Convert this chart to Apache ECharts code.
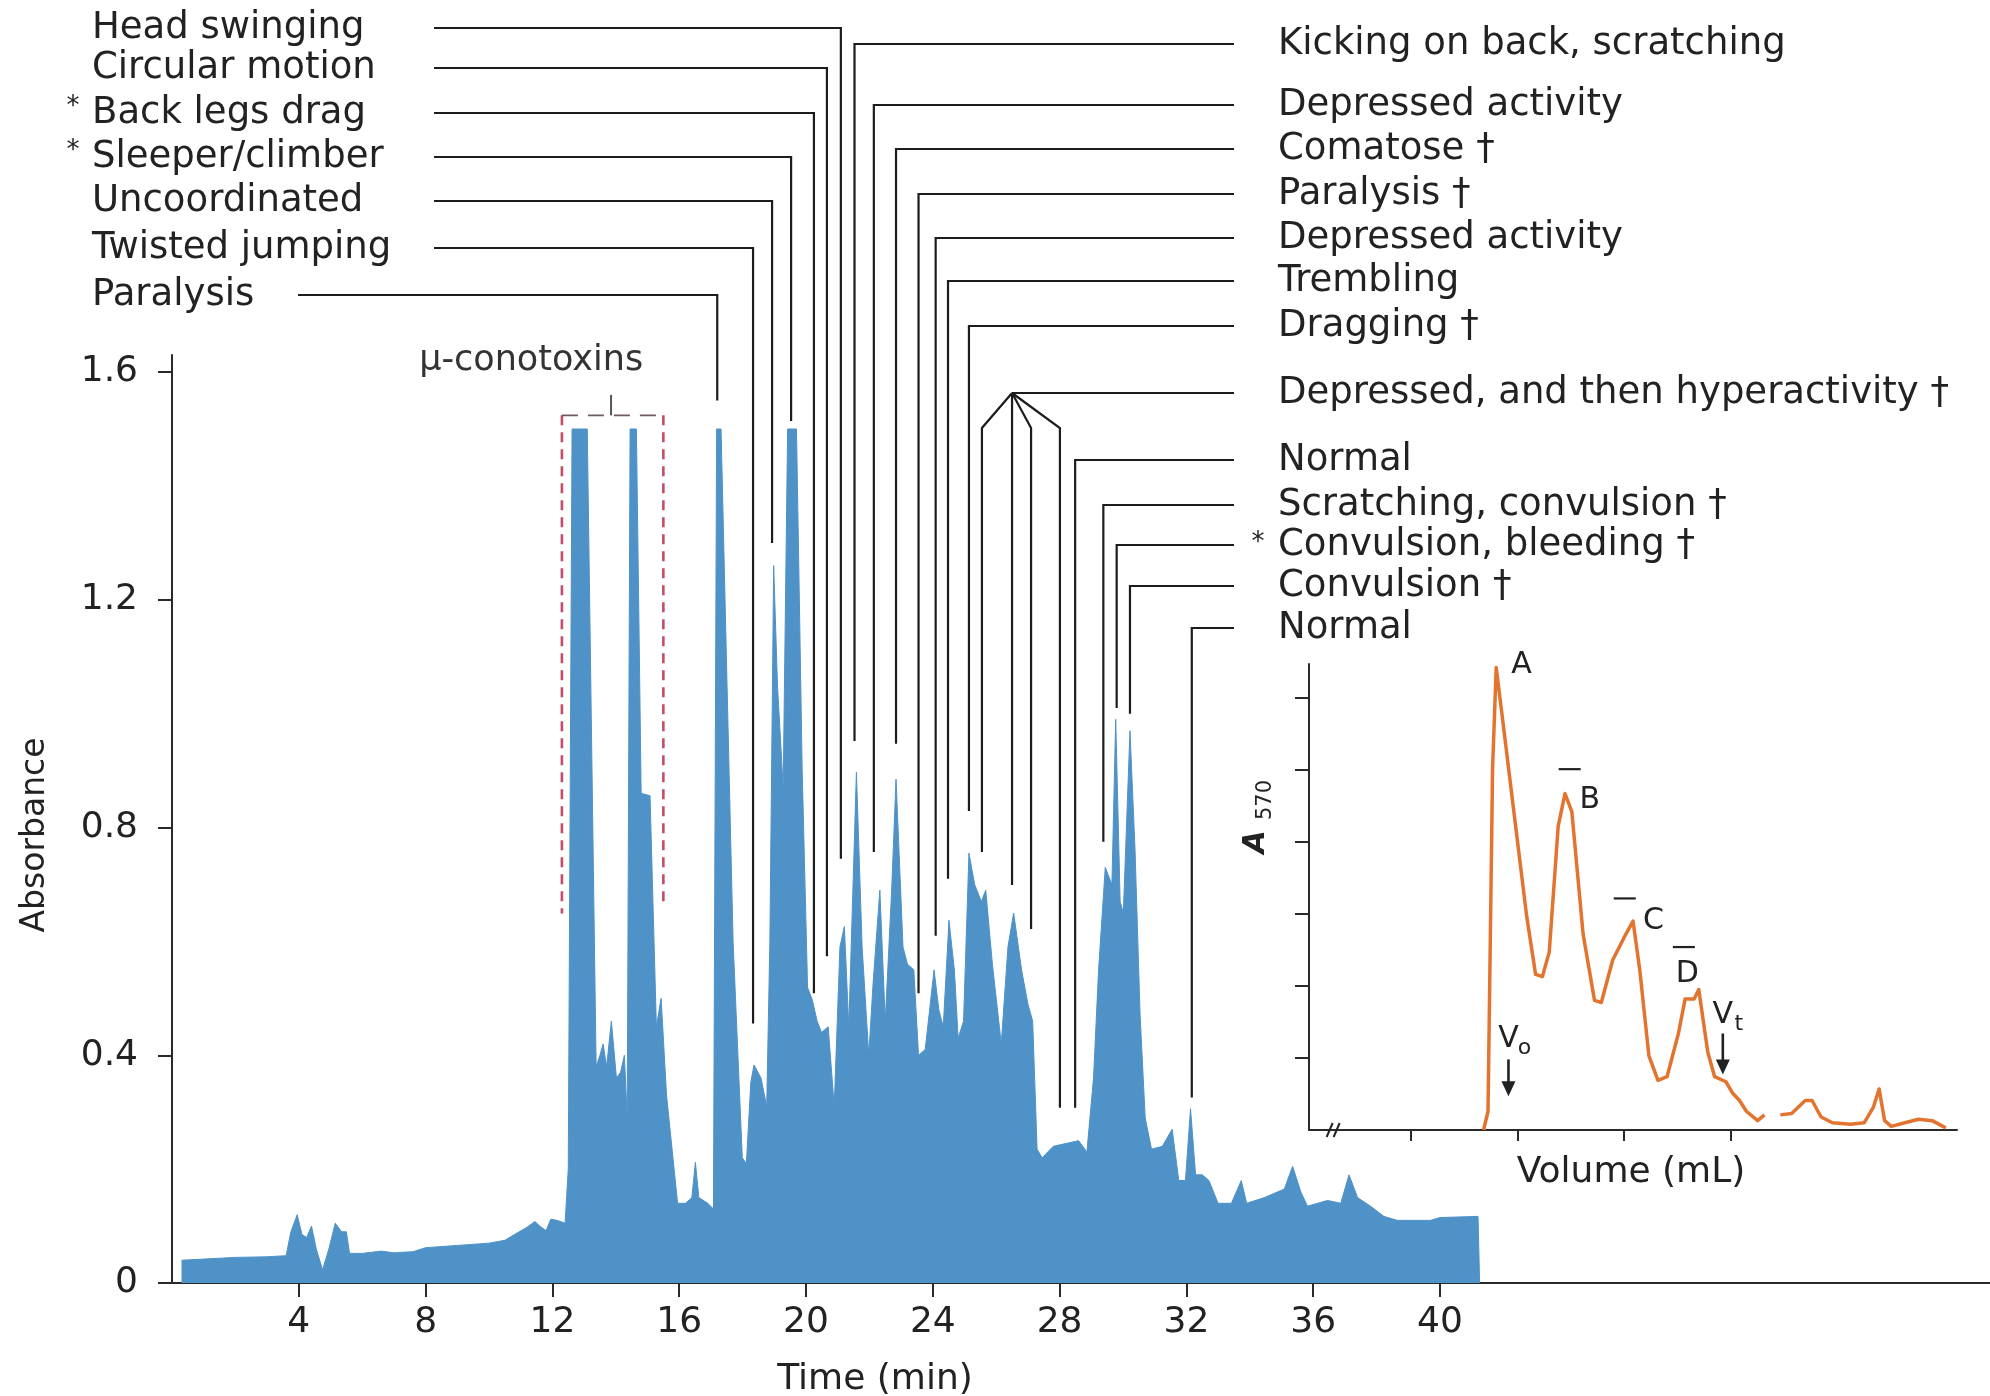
<!DOCTYPE html>
<html>
<head>
<meta charset="utf-8">
<script src="https://cdn.jsdelivr.net/npm/echarts@6/dist/echarts.min.js"></script>
<style>
html,body{margin:0;padding:0;background:#ffffff;}
#main{width:1990px;height:1396px;}
</style>
</head>
<body>
<div id="main"></div>
<script>
// ---------------- DATA ----------------
// Main chromatogram: time (min) and absorbance
const timeMin = [
  0.3, 1.0, 2.0, 3.0, 3.6, 3.75, 3.95, 4.1, 4.25, 4.4,
  4.55, 4.75, 4.95, 5.15, 5.35, 5.5, 5.6, 6.0, 6.6, 7.0,
  7.6, 8.0, 9.0, 10.0, 10.5, 10.8, 11.2, 11.45, 11.6, 11.8,
  11.95, 12.15, 12.4, 12.5, 12.62, 13.1, 13.38, 13.5, 13.6, 13.71,
  13.86, 14.02, 14.15, 14.27, 14.36, 14.45, 14.65, 14.8, 15.08, 15.28,
  15.43, 15.6, 15.95, 16.2, 16.4, 16.51, 16.62, 16.9, 17.08, 17.18,
  17.32, 17.7, 17.99, 18.12, 18.26, 18.36, 18.58, 18.76, 18.86, 18.98,
  19.1, 19.28, 19.42, 19.7, 19.88, 20.05, 20.2, 20.35, 20.49, 20.7,
  20.89, 21.07, 21.21, 21.35, 21.59, 21.77, 21.98, 22.12, 22.33, 22.5,
  22.7, 22.84, 23.06, 23.2, 23.4, 23.55, 23.76, 24.04, 24.19, 24.33,
  24.51, 24.68, 24.8, 24.97, 25.14, 25.32, 25.53, 25.67, 25.88, 26.16,
  26.37, 26.55, 26.8, 27.0, 27.15, 27.29, 27.45, 27.8, 28.2, 28.6,
  28.86, 29.07, 29.23, 29.44, 29.65, 29.77, 29.91, 30.01, 30.22, 30.38,
  30.54, 30.7, 30.9, 31.24, 31.55, 31.76, 31.97, 32.13, 32.29, 32.5,
  32.71, 33.0, 33.42, 33.73, 33.9, 34.46, 35.09, 35.35, 35.61, 35.82,
  36.45, 36.87, 37.13, 37.4, 37.81, 38.23, 38.65, 39.7, 40.0, 41.2,
  41.25
];
const absorbance = [
  0.040, 0.042, 0.045, 0.046, 0.048, 0.090, 0.120, 0.085, 0.080, 0.100,
  0.060, 0.023, 0.060, 0.105, 0.090, 0.090, 0.052, 0.052, 0.056, 0.053,
  0.055, 0.062, 0.066, 0.070, 0.075, 0.085, 0.098, 0.108, 0.100, 0.092,
  0.112, 0.110, 0.105, 0.200, 1.500, 1.500, 0.380, 0.400, 0.420, 0.380,
  0.460, 0.360, 0.370, 0.400, 0.290, 1.500, 1.500, 0.860, 0.856, 0.450,
  0.500, 0.330, 0.140, 0.140, 0.150, 0.212, 0.150, 0.140, 0.130, 1.500,
  1.500, 0.600, 0.220, 0.210, 0.353, 0.383, 0.360, 0.310, 0.600, 1.260,
  1.050, 0.870, 1.500, 1.500, 0.900, 0.519, 0.497, 0.460, 0.440, 0.450,
  0.310, 0.590, 0.626, 0.450, 0.897, 0.590, 0.400, 0.530, 0.690, 0.460,
  0.687, 0.885, 0.590, 0.560, 0.550, 0.400, 0.410, 0.550, 0.480, 0.450,
  0.637, 0.550, 0.430, 0.460, 0.755, 0.700, 0.670, 0.690, 0.560, 0.420,
  0.590, 0.650, 0.550, 0.490, 0.460, 0.235, 0.220, 0.240, 0.245, 0.250,
  0.230, 0.360, 0.550, 0.730, 0.700, 0.990, 0.670, 0.650, 0.970, 0.760,
  0.470, 0.290, 0.235, 0.240, 0.270, 0.180, 0.180, 0.306, 0.190, 0.190,
  0.180, 0.140, 0.140, 0.180, 0.140, 0.150, 0.165, 0.205, 0.160, 0.135,
  0.145, 0.140, 0.190, 0.150, 0.135, 0.117, 0.110, 0.110, 0.115, 0.117,
  0
];
const xTickValues = [4, 8, 12, 16, 20, 24, 28, 32, 36, 40];
const yTickValues = [0, 0.4, 0.8, 1.2, 1.6];
const yTickLabels = ['0', '0.4', '0.8', '1.2', '1.6'];

// Inset (gel filtration): volume (arbitrary mL units) and A570
const insetVolume = [
  1.679, 1.721, 1.764, 1.798, 1.849, 1.977, 2.083, 2.168, 2.232, 2.296,
  2.38, 2.444, 2.508, 2.614, 2.721, 2.785, 2.892, 2.998, 3.083, 3.147,
  3.232, 3.317, 3.402, 3.509, 3.572, 3.657, 3.70, 3.785, 3.849, 3.955,
  4.019, 4.083, 4.147, 4.253, 4.317, 4.39, 4.466, 4.572, 4.7, 4.764,
  4.849, 4.955, 5.125, 5.253, 5.338, 5.394, 5.445, 5.508, 5.636, 5.764,
  5.892, 6.02
];
const insetA570 = [
  0, 0.257, 5.03, 6.42, 5.81, 4.26, 2.98, 2.16, 2.13, 2.47,
  4.22, 4.67, 4.42, 2.72, 1.80, 1.77, 2.36, 2.67, 2.90, 2.21,
  1.03, 0.69, 0.74, 1.34, 1.82, 1.82, 1.95, 1.08, 0.74, 0.67,
  0.51, 0.41, 0.26, 0.13, 0.21, null, 0.21, 0.23, 0.41, 0.41,
  0.18, 0.10, 0.08, 0.10, 0.31, 0.57, 0.13, 0.05, 0.10, 0.15,
  0.13, 0.03
];
const insetXTicks = [1, 2, 3, 4];
const insetYTicks = [1, 2, 3, 4, 5, 6];

// Inset peak letters (A, B̄, C̄, D̄) and their anchor (volume, A570)
const insetPeakNames = ['A', 'B', 'C', 'D'];
const insetPeakVolume = [2.036, 2.676, 3.274, 3.593];
const insetPeakA570 = [6.45, 4.58, 2.90, 2.17];
const insetPeakBarred = [false, true, true, true];
const insetBarVolume = [null, 2.488, 3.005, 3.56];
const insetBarA570 = [null, 5.01, 3.215, 2.54];
// Vo / Vt markers
const markerNames = ['V', 'V'];
const markerSubs = ['o', 't'];
const markerVolume = [1.913, 3.926];
const markerTextA570 = [1.26, 1.59];
const markerArrowTop = [0.98, 1.34];
const markerArrowTip = [0.47, 0.77];

// Behaviour annotations (left side)
const leftBehaviors = ['Head swinging', 'Circular motion', 'Back legs drag', 'Sleeper/climber', 'Uncoordinated', 'Twisted jumping', 'Paralysis'];
const leftStarred = [false, false, true, true, false, false, false];
const leftPeakTime = [21.1, 20.66, 20.25, 19.53, 18.93, 18.33, 17.2];
const leftPeakAbs = [0.745, 0.574, 0.509, 1.514, 1.30, 0.456, 1.55];

// Behaviour annotations (right side); null time = forked bracket
const rightBehaviors = ['Kicking on back, scratching', 'Depressed activity', 'Comatose \u2020', 'Paralysis \u2020', 'Depressed activity', 'Trembling', 'Dragging \u2020', 'Depressed, and then hyperactivity \u2020', 'Normal', 'Scratching, convulsion \u2020', 'Convulsion, bleeding \u2020', 'Convulsion \u2020', 'Normal'];
const rightStarred = [false, false, false, false, false, false, false, false, false, false, true, false, false];
const rightPeakTime = [21.53, 22.14, 22.84, 23.55, 24.09, 24.48, 25.14, null, 28.49, 29.38, 29.8, 30.22, 32.17];
const rightPeakAbs = [0.952, 0.757, 0.947, 0.509, 0.61, 0.71, 0.829, null, 0.308, 0.775, 1.01, 1.0, 0.326];
const forkApexTime = 26.5;
const forkPeakTime = [25.55, 26.5, 27.1, 28.01];
const forkPeakAbs = [0.757, 0.699, 0.622, 0.308];

// mu-conotoxin bracket (time range, absorbance)
const conoLabel = '\u03bc-conotoxins';
const conoTime = [12.3, 15.5];
const conoTopAbs = 1.524;
const conoBottomAbs = [0.649, 0.667];
const conoTickTime = 13.85;
const conoTickTopAbs = 1.56;
const conoLabelPos = [11.33, 1.62];

// ---------------- LAYOUT / STYLE ----------------
const FONT = 'DejaVu Sans';
const BLUE = '#4f92c8';
const ORANGE = '#e2742f';
const INK = '#1c1c1c';
const TXT = '#222222';
const leftLabelY = [28, 68, 113, 157, 201, 248, 295];
const leftLineStart = [434, 434, 434, 434, 434, 434, 298];
const rightLabelY = [44, 105, 149, 194, 238, 281, 326, 393, 460, 505, 545, 586, 628];
const rightLineEnd = 1234;
const rightTextX = 1278;
const leftTextX = 92;
const forkKneeY = 428;

const chart = echarts.init(document.getElementById('main'), null, {renderer: 'canvas'});

const axisLineStyle = {color: '#2a2a2a', width: 2};
const option = {
  animation: false,
  backgroundColor: '#ffffff',
  tooltip: {show: false},
  grid: [
    {left: 172, right: 0, top: 355, bottom: 113, containLabel: false, outerBoundsMode: 'none'},
    {left: 1309, right: 33, top: 664, bottom: 266, containLabel: false, outerBoundsMode: 'none'}
  ],
  xAxis: [
    {
      type: 'value', gridIndex: 0, min: 0, max: 57.35,
      axisLine: {show: true, onZero: false, lineStyle: axisLineStyle},
      axisTick: {show: true, length: 14, customValues: xTickValues, lineStyle: axisLineStyle},
      axisLabel: {show: true, customValues: xTickValues, margin: 22, fontSize: 36, fontFamily: FONT, color: TXT},
      splitLine: {show: false}
    },
    {
      type: 'value', gridIndex: 1, min: 0.04, max: 6.125,
      axisLine: {show: true, onZero: false, lineStyle: axisLineStyle},
      axisTick: {show: true, length: 11, customValues: insetXTicks, lineStyle: axisLineStyle},
      axisLabel: {show: false},
      splitLine: {show: false}
    }
  ],
  yAxis: [
    {
      type: 'value', gridIndex: 0, min: 0, max: 1.63,
      axisLine: {show: true, onZero: false, lineStyle: axisLineStyle},
      axisTick: {show: true, length: 14, customValues: yTickValues, lineStyle: axisLineStyle},
      axisLabel: {
        show: true, customValues: yTickValues, margin: 34, fontSize: 36, fontFamily: FONT, color: TXT,
        formatter: function (v) {
          let best = 0;
          yTickValues.forEach(function (t, i) { if (Math.abs(t - v) < Math.abs(yTickValues[best] - v)) best = i; });
          return yTickLabels[best];
        }
      },
      splitLine: {show: false}
    },
    {
      type: 'value', gridIndex: 1, min: 0, max: 6.47,
      axisLine: {show: true, onZero: false, lineStyle: axisLineStyle},
      axisTick: {show: true, length: 14, customValues: insetYTicks, lineStyle: axisLineStyle},
      axisLabel: {show: false},
      splitLine: {show: false}
    }
  ],
  series: [
    {
      type: 'line', xAxisIndex: 0, yAxisIndex: 0,
      data: timeMin.map(function (t, i) { return [t, absorbance[i]]; }),
      symbol: 'none', showSymbol: false, smooth: false, sampling: null,
      lineStyle: {color: BLUE, width: 1},
      itemStyle: {color: BLUE},
      areaStyle: {color: BLUE, opacity: 1},
      z: 2, silent: true
    },
    {
      type: 'line', xAxisIndex: 1, yAxisIndex: 1,
      data: insetVolume.map(function (v, i) { return [v, insetA570[i] === null ? '-' : insetA570[i]]; }),
      symbol: 'none', showSymbol: false, smooth: false, connectNulls: false,
      lineStyle: {color: ORANGE, width: 3.5, join: 'round'},
      itemStyle: {color: ORANGE},
      z: 3, silent: true
    }
  ]
};
chart.setOption(option);

// ---------------- ANNOTATIONS ----------------
const P = function (t, a) { return chart.convertToPixel({xAxisIndex: 0, yAxisIndex: 0}, [t, a]); };
const Q = function (v, a) { return chart.convertToPixel({xAxisIndex: 1, yAxisIndex: 1}, [v, a]); };
const G = [];
function poly(points, stroke, width, dash) {
  G.push({type: 'polyline', silent: true, z: 50,
    shape: {points: points},
    style: {stroke: stroke || INK, lineWidth: width || 2.2, fill: null, lineDash: dash || null, lineJoin: 'miter'}});
}
function txt(str, x, y, o) {
  o = o || {};
  G.push({type: 'text', silent: true, z: 60, x: x, y: y, rotation: o.rot || 0,
    style: {text: str, fontSize: o.size || 37, fontFamily: FONT, fill: o.color || TXT,
      fontStyle: o.italic ? 'italic' : 'normal', fontWeight: o.bold ? 'bold' : 'normal',
      align: o.align || 'left', verticalAlign: o.va || 'middle'}});
}

// Left behaviour labels and leader lines
leftBehaviors.forEach(function (lab, i) {
  const y = leftLabelY[i];
  txt(lab, leftTextX, y);
  if (leftStarred[i]) txt('*', 73, y - 6, {size: 26, align: 'center'});
  const p = P(leftPeakTime[i], leftPeakAbs[i]);
  poly([[leftLineStart[i], y], [p[0], y], [p[0], p[1]]]);
});

// Right behaviour labels and leader lines
rightBehaviors.forEach(function (lab, i) {
  const y = rightLabelY[i];
  txt(lab, rightTextX, y);
  if (rightStarred[i]) txt('*', 1258, y - 2, {size: 26, align: 'center'});
  if (rightPeakTime[i] === null) {
    const ax = P(forkApexTime, 0)[0];
    poly([[ax, y], [rightLineEnd, y]]);
    forkPeakTime.forEach(function (t, k) {
      const b = P(t, forkPeakAbs[k]);
      if (Math.abs(b[0] - ax) < 3) poly([[ax, y], [ax, b[1]]]);
      else poly([[ax, y], [b[0], forkKneeY], [b[0], b[1]]]);
    });
  } else {
    const p = P(rightPeakTime[i], rightPeakAbs[i]);
    poly([[p[0], p[1]], [p[0], y], [rightLineEnd, y]]);
  }
});

// mu-conotoxin dashed bracket
(function () {
  const l = P(conoTime[0], conoTopAbs), r = P(conoTime[1], conoTopAbs);
  const lb = P(conoTime[0], conoBottomAbs[0]), rb = P(conoTime[1], conoBottomAbs[1]);
  poly([[l[0], l[1]], [lb[0], lb[1]]], '#c44d68', 2.6, [10, 7]);
  poly([[r[0], r[1]], [rb[0], rb[1]]], '#c44d68', 2.6, [10, 7]);
  poly([[l[0], l[1]], [r[0], r[1]]], '#6e5a60', 1.8, [16, 10]);
  const tb = P(conoTickTime, conoTopAbs), tt = P(conoTickTime, conoTickTopAbs);
  poly([[tb[0], tb[1]], [tt[0], tt[1]]], '#555', 2);
  const lp = P(conoLabelPos[0], conoLabelPos[1]);
  txt(conoLabel, lp[0], lp[1], {size: 35, align: 'center', color: '#333'});
})();

// Axis titles
txt('Absorbance', 35, 835, {size: 33, align: 'center', rot: Math.PI / 2});
txt('Time (min)', 875, 1380, {size: 36, align: 'center'});
txt('Volume (mL)', 1631, 1173, {size: 36, align: 'center'});
txt('A', 1256, 842, {size: 30, align: 'center', rot: Math.PI / 2, bold: true, italic: true});
txt('570', 1266, 800, {size: 21, align: 'center', rot: Math.PI / 2});

// Inset peak letters with overbars
insetPeakNames.forEach(function (n, i) {
  const p = Q(insetPeakVolume[i], insetPeakA570[i]);
  txt(n, p[0], p[1], {size: 30, align: 'center'});
  if (insetPeakBarred[i]) {
    const b = Q(insetBarVolume[i], insetBarA570[i]);
    poly([[b[0] - 11, b[1]], [b[0] + 11, b[1]]], '#222', 2.2);
  }
});

// Vo / Vt markers with arrows
markerNames.forEach(function (n, i) {
  const t = Q(markerVolume[i], markerTextA570[i]);
  txt(n, t[0], t[1], {size: 30, align: 'center'});
  txt(markerSubs[i], t[0] + 16, t[1] + 9, {size: 22, align: 'center'});
  const a0 = Q(markerVolume[i], markerArrowTop[i]);
  const a1 = Q(markerVolume[i], markerArrowTip[i]);
  poly([[a0[0], a0[1]], [a1[0], a1[1] - 10]], '#222', 2.6);
  G.push({type: 'polygon', silent: true, z: 60,
    shape: {points: [[a1[0] - 7, a1[1] - 15], [a1[0] + 7, a1[1] - 15], [a1[0], a1[1]]]},
    style: {fill: '#222', stroke: null}});
});

// Axis break marks on inset x axis
(function () {
  const b = Q(0.262, 0);
  poly([[b[0] - 6, b[1] + 7], [b[0], b[1] - 7]], '#222', 2);
  poly([[b[0] + 1, b[1] + 7], [b[0] + 7, b[1] - 7]], '#222', 2);
})();

chart.setOption({graphic: {elements: G}});
</script>
</body>
</html>
